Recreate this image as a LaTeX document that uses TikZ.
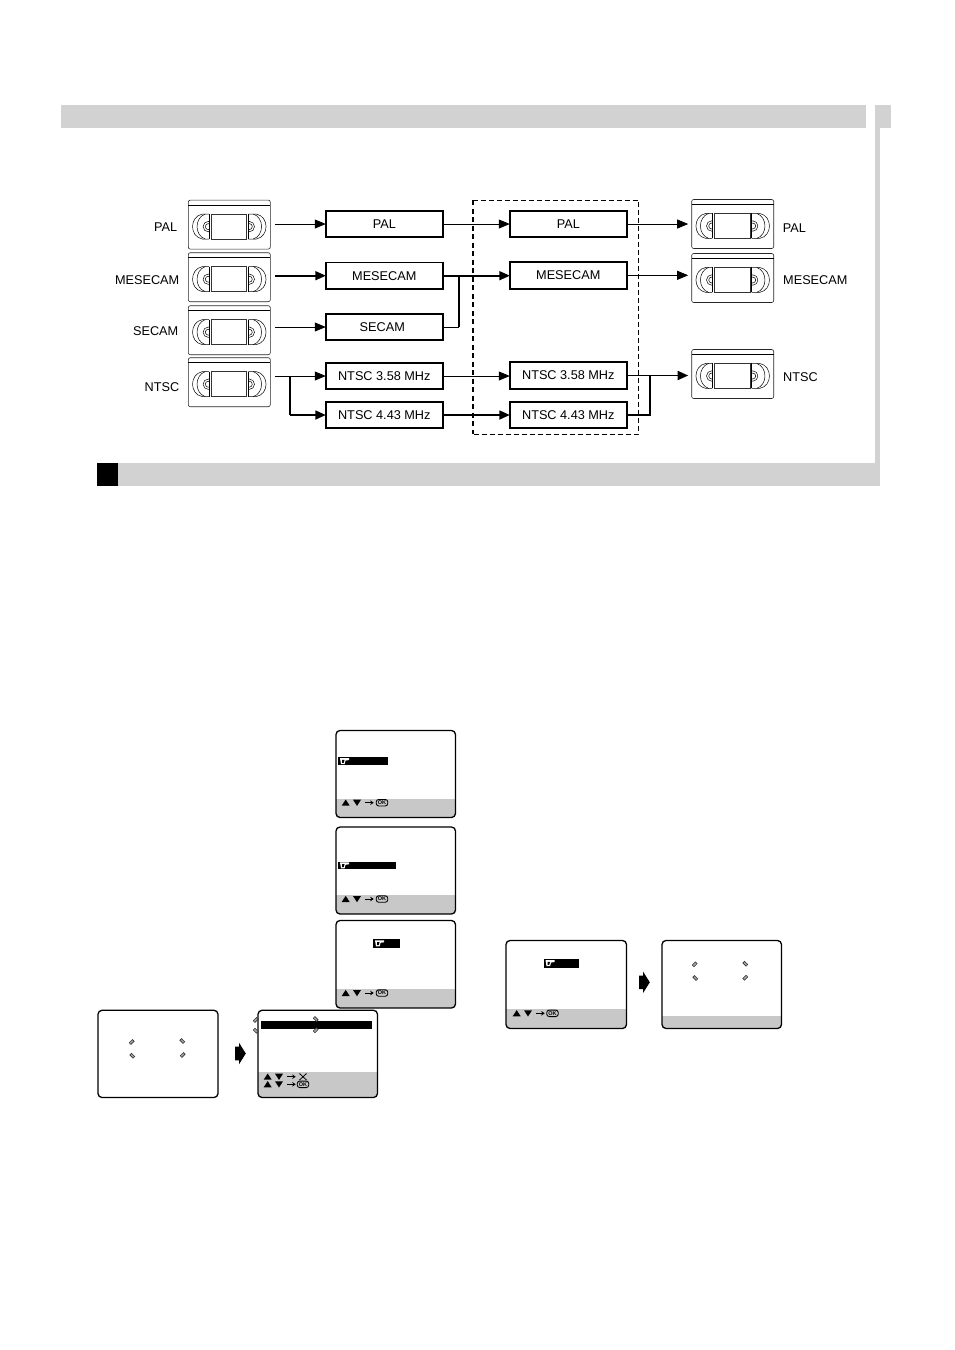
\documentclass[tikz,border=0pt]{standalone}
\usepackage{fontspec}
\setmainfont{Liberation Sans}
\usetikzlibrary{arrows.meta}
\definecolor{bargrey}{RGB}{210,210,210}
\definecolor{osdgrey}{RGB}{200,200,200}
\tikzset{
    % boxes of the two columns
    modebox/.style={draw, line width=1.8pt, minimum width=117pt, inner sep=0pt, outer sep=0pt, font=\fontsize{12.7}{14}\selectfont},
    tapelabel/.style={inner sep=0pt, font=\fontsize{12.7}{14}\selectfont},
    thinarrow/.style={line width=0.8pt, -{Triangle[length=11pt, width=9pt]}},
    thickarrow/.style={line width=1.7pt, -{Triangle[length=10.5pt, width=9pt]}},
    thinwire/.style={line width=0.8pt},
    thickwire/.style={line width=1.7pt},
    % little blinking marks on the screens
    blink/.style={draw=black!80, rotate=#1, line width=0.6pt, minimum width=4.5pt, minimum height=2.4pt, inner sep=0pt, fill=black!35},
    blink/.default=45,
    fatarrow/.pic={
        \fill (-5.5,-6.8) -- (-1.5,-6.8) -- (-1.5,-10.8) -- (5.3,0) -- (-1.5,10.8) -- (-1.5,6.8) -- (-5.5,6.8) -- cycle;
    },
    vhstape/.pic={
        \node[draw, line width=0.6pt, rounded corners=2pt, minimum width=82pt, minimum height=49pt, outer sep=0pt, black!85] (-body) at (0,0) {};
        \draw[line width=0.7pt] (-41,-19.6) -- (41,-19.6);
        \draw[line width=0.5pt, black!80] (-18.3,-10.6) rectangle (17.4,14.4);
        \draw[line width=0.5pt] (-20.3,-10.6) -- (-20.3,14.4);
        \draw[line width=0.5pt] (19,-10.6) -- (19,14.4);
        \draw[line width=0.5pt] (-20.3,-10.6) -- (-27,-10.6) .. controls (-40,-8) and (-40,12) .. (-27,14.4) -- (-20.3,14.4);
        \draw[line width=0.5pt] (-24,-10.6) .. controls (-35,-7) and (-35,11) .. (-24,14.4);
        \draw[line width=0.5pt] (19,-10.6) -- (27,-10.6) .. controls (40,-8) and (40,12) .. (27,14.4) -- (19,14.4);
        \draw[line width=0.5pt] (24,-10.6) .. controls (35,-7) and (35,11) .. (24,14.4);
        \begin{scope}
            \clip (-30,-8) rectangle (-20.3,12);
            \draw[line width=0.5pt] (-21,2) circle (5.2) circle (3);
        \end{scope}
        \begin{scope}
            \clip (19,-8) rectangle (30,12);
            \draw[line width=0.5pt] (20,2) circle (5.2) circle (3);
        \end{scope}
    },
    updown/.pic={
        \fill (-4,3) -- (4,3) -- (0,-3.2) -- cycle;
        \fill (7.3,-3) -- (15.3,-3) -- (11.3,3.2) -- cycle;
        \draw[line width=0.8pt, -{Stealth[length=3.5pt, width=4.5pt]}] (19.5,0) -- (28,0);
    },
    okpill/.pic={
        \node[draw, line width=0.9pt, rounded corners=2.5pt, minimum width=11.5pt, minimum height=6.5pt, inner sep=0pt, font=\fontsize{5.5}{6}\selectfont\bfseries] (-label) at (0,0) {OK};
    },
    handmark/.pic={
        \fill[white] (0,0) -- (9,0) -- (9,1.8) -- (5.5,2.4) -- (4.6,6) -- (1,6) -- cycle;
        \fill[black] (2,1.6) -- (4.6,1.6) -- (3.7,4.6) -- (2.2,4.6) -- cycle;
    }
}
\newcommand{\osdscreen}[5]{%
    \begin{scope}
        \clip[rounded corners=4pt] (#1,#2) rectangle (#3,#4);
        \fill[osdgrey] (#1,#5) rectangle (#3,#4);
    \end{scope}
    \draw[line width=1.3pt, rounded corners=4pt] (#1,#2) rectangle (#3,#4);
}
\begin{document}
\begin{tikzpicture}[x=1pt,y=-1pt]
   \useasboundingbox (0,0) rectangle (954,1350);
   % grey bands
   \fill[bargrey] (61,105) rectangle (866,128);
   \fill[bargrey] (875,105) rectangle (891,128);
   \fill[bargrey] (875,128) rectangle (880,463);
   \fill[bargrey] (97,463) rectangle (880,486);
   \fill[black] (97,463) rectangle (118,486);

   \pic (tapeA) at (229.3,224.6) {vhstape};
   \pic (tapeB) at (229.3,277.2) {vhstape};
   \pic (tapeC) at (229.3,330.2) {vhstape};
   \pic (tapeD) at (229.3,382.2) {vhstape};
   \pic (tapeE) at (732.7,224) {vhstape};
   \pic (tapeF) at (732.7,278) {vhstape};
   \pic (tapeG) at (732.7,374) {vhstape};
   \node[tapelabel] (lblA) at (165.7,227) {PAL};
   \node[tapelabel,anchor=east] (lblB) at (179.5,280) {MESECAM};
   \node[tapelabel,anchor=east] (lblC) at (178.5,331) {SECAM};
   \node[tapelabel,anchor=east] (lblD) at (179.5,387) {NTSC};
   \node[tapelabel,anchor=west] (lblE) at (782.7,228) {PAL};
   \node[tapelabel,anchor=west] (lblF) at (783,280.5) {MESECAM};
   \node[tapelabel,anchor=west] (lblG) at (783,377) {NTSC};

   \node[modebox,minimum height=25.6pt] (palA) at (384.3,224) {PAL};
   \node[modebox,minimum height=26.4pt] (mesA) at (384.3,275.7) {MESECAM};
   \node[modebox,minimum height=25.6pt] (secA) at (384.3,327) {\hspace*{-4pt}SECAM};
   \node[modebox,minimum height=26.4pt] (ntscA) at (384.3,376) {NTSC 3.58 MHz};
   \node[modebox,minimum height=26.4pt] (ntscB) at (384.3,415) {NTSC 4.43 MHz};
   \node[modebox,minimum height=25.6pt] (palB) at (568.3,224) {PAL};
   \node[modebox,minimum height=27pt] (mesB) at (568.3,275.3) {MESECAM};
   \node[modebox,minimum height=26.5pt] (ntscC) at (568.3,375.5) {NTSC 3.58 MHz};
   \node[modebox,minimum height=26.5pt] (ntscD) at (568.3,415) {NTSC 4.43 MHz};
   \node[minimum width=166pt, minimum height=234pt, outer sep=0pt] (dashframe) at (555.7,317) {};
   \draw[line width=1pt, dash pattern=on 5pt off 3pt] (dashframe.north west) -- (dashframe.north east) -- (dashframe.south east) -- (dashframe.south west);
   \draw[line width=1.6pt, dash pattern=on 5pt off 3.5pt] (dashframe.north west) -- (dashframe.south west);

   \coordinate (joinL) at (290,376);
   \coordinate (joinM) at (459,275.7);
   \coordinate (joinR) at (650,375.5);

   \draw[thinarrow,shorten <=5pt] (tapeA-body.east |- palA.west) -- (palA.west);
   \draw[thickarrow,shorten <=5pt] (tapeB-body.east |- mesA.west) -- (mesA.west);
   \draw[thinarrow,shorten <=5pt] (tapeC-body.east |- secA.west) -- (secA.west);
   \draw[thinarrow,shorten <=5pt] (tapeD-body.east |- ntscA.west) -- (ntscA.west);
   \draw[thickwire] (joinL) -- (joinL |- ntscB.west);
   \draw[thickarrow] (joinL |- ntscB.west) -- (ntscB.west);

   \draw[thinarrow] (palA.east) -- (palB.west |- palA.east);
   \draw[thickarrow] (mesA.east) -- (mesB.west |- mesA.east);
   \draw[thinwire] (secA.east) -- (joinM |- secA.east);
   \draw[thickwire] (joinM |- secA.east) -- (joinM);
   \draw[thinarrow] (ntscA.east) -- (ntscC.west |- ntscA.east);
   \draw[thickarrow] (ntscB.east) -- (ntscD.west |- ntscB.east);

   \draw[thinarrow,shorten >=3.5pt] (palB.east) -- (tapeE-body.west |- palB.east);
   \draw[thinarrow,shorten >=3.5pt] (mesB.east) -- (tapeF-body.west |- mesB.east);
   \draw[thickarrow,shorten >=3.5pt] (ntscC.east) -- (tapeG-body.west |- ntscC.east);
   \draw[thickwire] (ntscD.east) -- (joinR |- ntscD.east) -- (joinR);

   % on-screen menus
   \osdscreen{336}{730.5}{455.5}{817.5}{799}
   \fill (338,757.3) rectangle (388,765);
   \pic at (340,758.2) {handmark};
   \pic at (345.7,802.7) {updown};
   \pic (okA) at (382,802.7) {okpill};

   \osdscreen{336}{827}{455.5}{914}{895}
   \fill (338,861.7) rectangle (396,869);
   \pic at (340,862.4) {handmark};
   \pic at (345.7,899) {updown};
   \pic (okB) at (382,899) {okpill};

   \osdscreen{336}{920.5}{455.5}{1008}{989}
   \fill (373.3,939.3) rectangle (400,947.7);
   \pic at (375,940.4) {handmark};
   \pic at (345.7,993) {updown};
   \pic (okC) at (382,993) {okpill};

   \osdscreen{98}{1010.3}{218}{1097.5}{1097.5}
   \node[blink=45] (markA) at (131.7,1042) {};
   \node[blink=-45] (markB) at (182.3,1041) {};
   \node[blink=-45] (markC) at (132.3,1055.7) {};
   \node[blink=45] (markD) at (182.7,1055) {};
   \pic at (240.5,1053.5) {fatarrow};

   \osdscreen{258}{1010.3}{377.5}{1097.5}{1072.3}
   \fill (261,1021) rectangle (372,1029);
   \node[blink=45] (markE) at (255.7,1020) {};
   \node[blink=-45] (markF) at (255.7,1030.7) {};
   \node[blink=-45] (markG) at (315.7,1019) {};
   \node[blink=45] (markH) at (315.7,1030.3) {};
   \pic at (267.7,1076.7) {updown};
   \draw[line width=0.8pt] (299.5,1073.5) -- (306.5,1080) (306.5,1073.5) -- (299.5,1080);
   \pic at (267.7,1084.3) {updown};
   \pic (okD) at (303,1084.3) {okpill};

   \osdscreen{506}{940.5}{626.5}{1028.5}{1009}
   \fill (544,959) rectangle (579,967.7);
   \pic at (545.5,960.2) {handmark};
   \pic at (516.7,1013.3) {updown};
   \pic (okE) at (552.5,1013.3) {okpill};
   \pic at (644.5,982.3) {fatarrow};

   \osdscreen{662}{940.5}{781.5}{1028.5}{1016}
   \node[blink=45] (markI) at (694.7,964.3) {};
   \node[blink=-45] (markJ) at (745.3,963.7) {};
   \node[blink=-45] (markK) at (695.3,978) {};
   \node[blink=45] (markL) at (745.3,977.7) {};
\end{tikzpicture}
\end{document}
